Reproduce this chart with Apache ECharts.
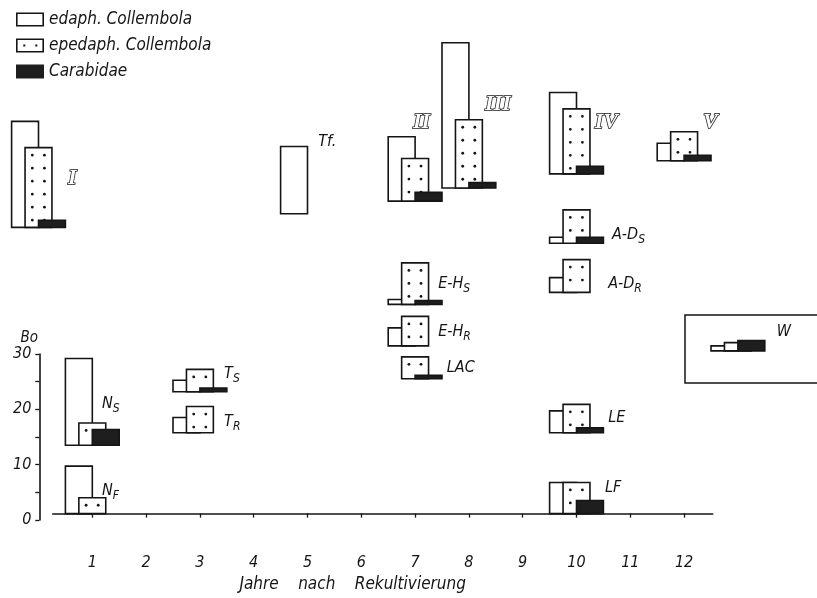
<!DOCTYPE html>
<html>
<head>
<meta charset="utf-8">
<script src="https://cdn.jsdelivr.net/npm/echarts@6/dist/echarts.min.js"></script>
<style>
  html, body { margin: 0; padding: 0; background: #fff; }
  #chart { width: 817px; height: 598px; }
</style>
</head>
<body>
<div id="chart"></div>
<script>
// Site groups: year after reclamation, level of the group's baseline on the
// abundance scale, and bar heights for the three animal groups.
const groups    = ['I', 'Tf.', 'II', 'III', 'IV', 'V', 'A-D|S', 'A-D|R', 'E-H|S', 'E-H|R', 'LAC', 'T|S', 'T|R', 'N|S', 'N|F', 'LE', 'LF', 'W'];
const years     = [0, 5, 7, 8, 10, 12, 10, 10, 7, 7, 7, 3, 3, 1, 1, 10, 10, 13];
const baseLevel = [52.4, 54.9, 57.2, 59.6, 62.2, 64.6, 49.5, 40.5, 38.3, 30.7, 24.7, 22.3, 14.8, 12.5, 0, 14.8, 0, 29.8];
const edaph     = [19.4, 12.3, 11.8, 26.6, 14.9, 3.2, 1.1, 2.7, 0.9, 3.3, 0, 2.1, 2.8, 15.9, 8.7, 4.0, 5.7, 0.9];
const epedaph   = [14.6, 0, 7.8, 12.5, 11.9, 5.3, 6.1, 6.0, 7.6, 5.4, 4.0, 4.1, 4.8, 4.1, 2.9, 5.2, 5.7, 1.5];
const carabidae = [1.3, 0, 1.6, 1.0, 1.4, 1.0, 1.1, 0, 0.7, 0, 0.6, 0.7, 0, 2.9, 0, 0.9, 2.4, 1.9];

// Axis ticks
const yearTicks = [1, 2, 3, 4, 5, 6, 7, 8, 9, 10, 11, 12];
const boTicks   = [0, 5, 10, 15, 20, 25, 30];
const boLabels  = [0, 10, 20, 30];

// Label anchors (year, level) for each group name, same order as groups
const labelAnchor = [
  [0.55, 61.4], [5.2, 68.1], [6.96, 71.6], [8.3, 75.0], [10.34, 71.6], [12.35, 71.6],
  [10.66, 51.0], [10.59, 42.1], [7.43, 42.1], [7.43, 33.3], [7.59, 26.7],
  [3.45, 25.5], [3.45, 16.8], [1.18, 20.1], [1.18, 4.2], [10.59, 17.5], [10.53, 4.7], [13.72, 33.3]
];

const INK = '#151515';
const BAR_W = 0.5;            // bar width in years
const SANS = "'DejaVu Sans Condensed', 'Liberation Sans Narrow', 'Liberation Sans', sans-serif";

function barSeries(name, values, offset, kind) {
  return {
    type: 'custom',
    name: name,
    xAxisIndex: 0, yAxisIndex: 0,
    clip: false,
    data: groups.map((g, i) => [years[i], baseLevel[i], values[i]]),
    itemStyle: { color: kind === 'solid' ? INK : '#fff' },
    renderItem: function (params, api) {
      const pos = api.value(0), base = api.value(1), h = api.value(2);
      if (!h) return null;
      const p0 = api.coord([pos + offset, base]);
      const p1 = api.coord([pos + offset + BAR_W, base + h]);
      const x = p0[0], y = p1[1], w = p1[0] - p0[0], hh = p0[1] - p1[1];
      const children = [{
        type: 'rect',
        shape: { x: x, y: y, width: w, height: hh },
        style: { fill: kind === 'solid' ? '#1e1e1e' : '#fff', stroke: INK, lineWidth: 1.6 }
      }];
      if (kind === 'dots') {
        for (let dy = 7.5; dy <= hh - 3.5; dy += 13) {
          [0.27, 0.72].forEach(f => children.push({
            type: 'circle',
            shape: { cx: x + w * f, cy: y + dy, r: 1.4 },
            style: { fill: INK }
          }));
        }
      }
      return { type: 'group', children: children };
    }
  };
}

function labelText(s) {
  if (/^[IV]+$/.test(s)) return '{r|' + s + '}';
  const parts = s.split('|');
  return parts.length > 1 ? '{m|' + parts[0] + '}{s|' + parts[1] + '}' : '{m|' + s + '}';
}

const labelSeries = {
  type: 'custom',
  name: 'labels',
  xAxisIndex: 0, yAxisIndex: 0,
  clip: false,
  silent: true,
  data: groups.map((g, i) => [labelAnchor[i][0], labelAnchor[i][1], i]),
  renderItem: function (params, api) {
    const p = api.coord([api.value(0), api.value(1)]);
    const txt = groups[api.value(2)];
    return {
      type: 'text',
      x: p[0], y: p[1],
      style: {
        text: labelText(txt),
        verticalAlign: 'middle',
        align: 'left',
        rich: {
          m: { fontFamily: SANS, fontStyle: 'italic', fontSize: 16, fill: INK, lineHeight: 20 },
          s: { fontFamily: SANS, fontStyle: 'italic', fontSize: 12, fill: INK, lineHeight: 20, padding: [10, 0, 0, 0] },
          r: { fontFamily: "'Liberation Serif', serif", fontStyle: 'italic', fontWeight: 'bold', fontSize: 22,
               fill: '#fff', stroke: INK, lineWidth: 1.5, lineHeight: 22 }
        }
      }
    };
  }
};

const legendIcons = {
  edaph: 'path://M0,0H28V14H0Z M1.6,1.6V12.4H26.4V1.6Z',
  epedaph: 'path://M0,0H28V14H0Z M1.6,1.6V12.4H26.4V1.6Z M7.3,6H9.3V8H7.3Z M19.3,6H21.3V8H19.3Z'
};

const chart = echarts.init(document.getElementById('chart'), null, { renderer: 'canvas' });
chart.setOption({
  backgroundColor: '#fff',
  animation: false,
  legend: {
    orient: 'vertical',
    left: 11, top: 6,
    itemWidth: 28, itemHeight: 14, itemGap: 9,
    selectedMode: false,
    textStyle: { fontFamily: SANS, fontStyle: 'italic', fontSize: 17, color: INK },
    data: [
      { name: 'edaph. Collembola', icon: legendIcons.edaph, itemStyle: { color: INK, borderWidth: 0 } },
      { name: 'epedaph. Collembola', icon: legendIcons.epedaph, itemStyle: { color: INK, borderWidth: 0 } },
      { name: 'Carabidae', icon: 'rect', itemStyle: { color: '#1e1e1e', borderWidth: 0 } }
    ]
  },
  grid: [
    { left: 52.7, right: 104.3, top: 22, bottom: 78 },
    { left: 39.3, width: 20, top: 354, bottom: 78 }
  ],
  xAxis: [{
    type: 'value', gridIndex: 0,
    min: 0.2639, max: 12.5316,
    position: 'bottom', offset: 28.5,
    splitLine: { show: false },
    axisLine: { show: true, lineStyle: { color: INK, width: 1.6 } },
    axisTick: { show: true, customValues: yearTicks, length: 4, lineStyle: { color: INK, width: 1.3 } },
    axisLabel: { customValues: yearTicks, margin: 13, color: INK, fontFamily: SANS, fontStyle: 'italic', fontSize: 16 },
    name: 'Jahre    nach    Rekultivierung',
    nameLocation: 'middle', nameGap: 33,
    nameTextStyle: { fontFamily: SANS, fontStyle: 'italic', fontSize: 17, color: INK, padding: [0, 60, 0, 0] }
  }, {
    type: 'value', gridIndex: 1, show: false, min: 0, max: 1
  }],
  yAxis: [{
    type: 'value', gridIndex: 0, show: false, min: 0, max: 90
  }, {
    type: 'value', gridIndex: 1,
    min: 0, max: 30, interval: 5,
    position: 'left',
    splitLine: { show: false },
    axisLine: { show: true, lineStyle: { color: INK, width: 1.6 } },
    axisTick: { show: true, customValues: boTicks, length: 4, lineStyle: { color: INK, width: 1.3 } },
    axisLabel: { customValues: boLabels, margin: 8, color: INK, fontFamily: SANS, fontStyle: 'italic', fontSize: 16 },
    name: 'Bo', nameLocation: 'end', nameGap: 7,
    nameTextStyle: { fontFamily: SANS, fontStyle: 'italic', fontSize: 15, color: INK, padding: [0, 20, 0, 0] }
  }],
  graphic: [{
    type: 'rect',
    shape: { x: 685, y: 315, width: 140, height: 68 },
    style: { fill: 'none', stroke: INK, lineWidth: 1.5 },
    silent: true
  }],
  series: [
    barSeries('edaph. Collembola', edaph, -0.5, 'plain'),
    barSeries('epedaph. Collembola', epedaph, -0.25, 'dots'),
    barSeries('Carabidae', carabidae, 0, 'solid'),
    labelSeries
  ]
});
</script>
</body>
</html>
